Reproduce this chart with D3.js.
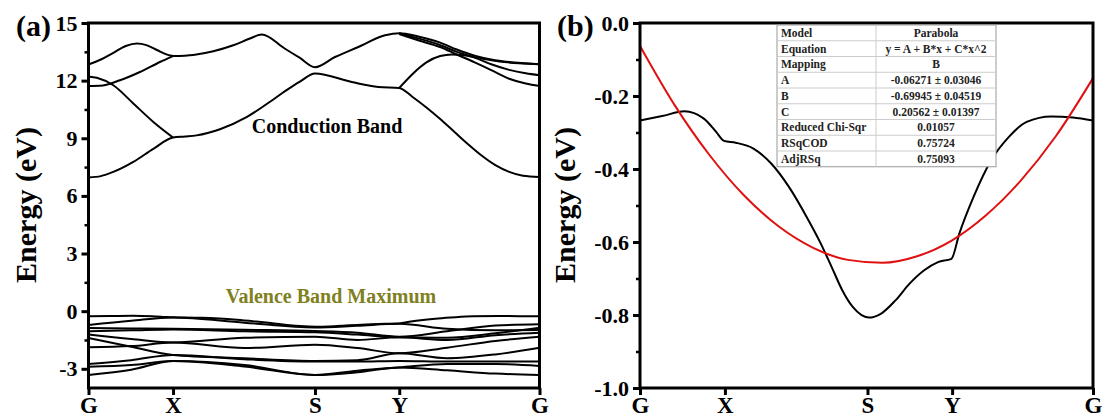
<!DOCTYPE html>
<html>
<head>
<meta charset="utf-8">
<script src="https://cdn.jsdelivr.net/npm/d3@7"></script>
<style>
  body { margin: 0; background: #fff; }
  text { font-family: "Liberation Serif", "Times New Roman", serif; font-weight: bold; }
</style>
</head>
<body>
<div id="chart"></div>
<script>
/* k-path and tick labels */
var kTicks = [0, 0.613, 1.642, 2.253, 3.27];
var kLabels = ["G", "X", "S", "Y", "G"];
var energyTicksA = [15, 12, 9, 6, 3, 0, -3];
var energyMinorA = [13.5, 10.5, 7.5, 4.5, 1.5, -1.5];
var energyTicksB = [0, -0.2, -0.4, -0.6, -0.8, -1.0];
var energyMinorB = [-0.1, -0.3, -0.5, -0.7, -0.9];

/* conduction bands, [k, E] pieces */
var conductionBands = [
  [[0,6.96],[0.09,7.03],[0.18,7.25],[0.325,7.77],[0.47,8.45],[0.613,9.04],[0.7,9.09],[0.784,9.15],[0.953,9.47],[1.146,10.1],[1.34,11.02],[1.425,11.45],[1.533,11.95],[1.642,12.37],[1.908,11.93],[2.102,11.67],[2.253,11.62],[2.35,11.15],[2.45,10.6],[2.55,10.0],[2.65,9.35],[2.75,8.7],[2.85,8.1],[2.95,7.6],[3.05,7.25],[3.15,7.05],[3.27,6.99]],
  [[0,12.22],[0.06,12.15],[0.18,11.76],[0.325,10.81],[0.47,9.85],[0.613,9.04]],
  [[0,11.72],[0.083,11.73],[0.228,12.02],[0.373,12.45],[0.518,12.97],[0.613,13.28]],
  [[0,12.84],[0.09,13.1],[0.18,13.45],[0.27,13.8],[0.35,13.93],[0.42,13.85],[0.5,13.58],[0.56,13.38],[0.613,13.28]],
  [[0.613,13.28],[0.76,13.34],[0.905,13.53],[1.05,13.84],[1.17,14.19],[1.256,14.4],[1.425,13.66],[1.533,13.18],[1.642,12.7],[1.787,13.23],[1.956,13.75],[2.15,14.36],[2.253,14.47],[2.39,14.3],[2.55,13.98],[2.67,13.62],[2.8,13.3],[2.92,13.1],[3.05,12.97],[3.17,12.9],[3.27,12.85]],
  [[2.253,14.47],[2.39,14.2],[2.55,13.85],[2.67,13.5],[2.8,13.2],[2.92,12.85],[3.05,12.56],[3.17,12.38],[3.27,12.28]],
  [[2.253,14.42],[2.39,14.1],[2.55,13.75],[2.67,13.36],[2.8,12.95],[2.92,12.55],[3.05,12.1],[3.17,11.85],[3.27,11.72]],
  [[2.253,11.62],[2.35,12.35],[2.45,12.95],[2.55,13.28],[2.635,13.36],[2.72,13.32],[2.85,13.15],[2.98,13.0],[3.12,12.9],[3.27,12.85]]
];

/* valence bands below the top one, E at valenceK */
var valenceK = [0, 0.31, 0.613, 1.13, 1.642, 1.95, 2.253, 2.6, 2.95, 3.27];
var valenceBands = [
  [-0.72, -0.50, -0.33, -0.60, -0.85, -0.76, -0.66, -0.92, -1.00, -0.98],
  [-0.88, -0.90, -0.92, -0.97, -1.03, -1.12, -1.33, -1.05, -0.75, -0.68],
  [-1.05, -1.00, -0.95, -1.05, -1.10, -1.22, -1.36, -1.38, -1.15, -0.86],
  [-1.22, -1.45, -1.63, -1.38, -1.33, -1.50, -1.36, -1.50, -1.25, -1.12],
  [-1.88, -1.82, -1.63, -1.92, -1.75, -1.92, -2.19, -1.90, -1.55, -1.33],
  [-1.40, -1.85, -2.28, -2.45, -2.59, -2.55, -2.19, -2.45, -2.25, -1.90],
  [-2.75, -2.55, -2.28, -2.50, -2.62, -2.62, -2.59, -2.62, -2.62, -2.62],
  [-2.89, -2.80, -2.60, -2.80, -3.32, -3.10, -2.93, -2.75, -2.75, -2.85],
  [-3.32, -3.05, -2.60, -2.88, -3.32, -3.18, -2.93, -3.08, -3.25, -3.32]
];

/* top valence band (panel b black line, also top line of panel a) */
var vbmBand = [[0,-0.267],[0.16,-0.255],[0.32,-0.242],[0.461,-0.262],[0.551,-0.299],[0.607,-0.323],[0.691,-0.328],[0.819,-0.344],[0.947,-0.385],[1.075,-0.449],[1.204,-0.532],[1.306,-0.605],[1.383,-0.668],[1.46,-0.732],[1.536,-0.778],[1.652,-0.807],[1.741,-0.796],[1.844,-0.76],[1.946,-0.714],[2.049,-0.678],[2.151,-0.655],[2.248,-0.646],[2.305,-0.577],[2.407,-0.477],[2.535,-0.376],[2.663,-0.312],[2.791,-0.271],[2.97,-0.256],[3.124,-0.259],[3.27,-0.267]];

/* red parabola fit as drawn */
var fitCurve = [[0,-0.063],[0.25,-0.225],[0.5,-0.361],[0.75,-0.472],[1.0,-0.557],[1.25,-0.616],[1.5,-0.649],[1.75,-0.657],[2.0,-0.639],[2.25,-0.596],[2.5,-0.526],[2.75,-0.431],[3.0,-0.311],[3.27,-0.151]];

/* fit report table */
var tableRows = [
  ["Model", "Parabola"],
  ["Equation", "y = A + B*x + C*x^2"],
  ["Mapping", "B"],
  ["A", "-0.06271 \u00b1 0.03046"],
  ["B", "-0.69945 \u00b1 0.04519"],
  ["C", "0.20562 \u00b1 0.01397"],
  ["Reduced Chi-Sqr", "0.01057"],
  ["RSqCOD", "0.75724"],
  ["AdjRSq", "0.75093"]
];

var svg = d3.select("#chart")
            .append("svg")
            .attr("width", 1104)
            .attr("height", 419);

var plotTop = 23, plotBottom = 388;

var xA = d3.scaleLinear().domain([0, 3.27]).range([88.5, 539.5]);
var yA = d3.scaleLinear().domain([-4, 15]).range([plotBottom, plotTop]);
var xB = d3.scaleLinear().domain([0, 3.27]).range([640, 1093]);
var yB = d3.scaleLinear().domain([-1, 0]).range([plotBottom, plotTop]);

function drawAxes(x, y, ticks, minor, fmt) {
  var x0 = x.range()[0], x1 = x.range()[1];

  var gy = svg.append("g")
      .attr("transform", "translate(" + x0 + ",0)")
      .call(d3.axisLeft(y).tickValues(ticks).tickSize(7).tickPadding(4).tickFormat(fmt));
  gy.select(".domain").remove();
  gy.selectAll("line").attr("stroke-width", 3);
  gy.selectAll("text").style("font-size", "22px").attr("fill", "#000");

  var gm = svg.append("g")
      .attr("transform", "translate(" + x0 + ",0)")
      .call(d3.axisLeft(y).tickValues(minor).tickSize(4).tickFormat(""));
  gm.select(".domain").remove();
  gm.selectAll("line").attr("stroke-width", 2.5);

  var gx = svg.append("g")
      .attr("transform", "translate(0," + plotBottom + ")")
      .call(d3.axisBottom(x).tickValues(kTicks).tickSize(7)
              .tickFormat(function (d, i) { return kLabels[i]; }));
  gx.select(".domain").remove();
  gx.selectAll("line").attr("stroke-width", 3);
  gx.selectAll("text").attr("dy", null).attr("y", 25)
    .style("font-size", "23px").attr("fill", "#000");

  svg.append("rect")
     .attr("x", x0).attr("y", plotTop)
     .attr("width", x1 - x0).attr("height", plotBottom - plotTop)
     .attr("fill", "none").attr("stroke", "#000").attr("stroke-width", 3);
}

/* ---- panel (a) ---- */
var lineA = d3.line()
    .x(function (d) { return xA(d[0]); })
    .y(function (d) { return yA(d[1]); })
    .curve(d3.curveMonotoneX);

svg.selectAll()
   .data(conductionBands)
   .enter()
   .append("path")
   .attr("d", lineA)
   .attr("fill", "none").attr("stroke", "#000").attr("stroke-width", 2);

svg.append("path")
   .attr("d", lineA(vbmBand))
   .attr("fill", "none").attr("stroke", "#000").attr("stroke-width", 2);

svg.selectAll()
   .data(valenceBands)
   .enter()
   .append("path")
   .attr("d", function (band) {
     return lineA(band.map(function (e, i) { return [valenceK[i], e]; }));
   })
   .attr("fill", "none").attr("stroke", "#000").attr("stroke-width", 2);

drawAxes(xA, yA, energyTicksA, energyMinorA, function (d) { return String(d); });

svg.append("text").attr("x", 327).attr("y", 133)
   .attr("text-anchor", "middle").style("font-size", "20px")
   .text("Conduction Band");

svg.append("text").attr("x", 331).attr("y", 303)
   .attr("text-anchor", "middle").style("font-size", "20px")
   .attr("fill", "#80801e")
   .text("Valence Band Maximum");

svg.append("text").attr("x", 16).attr("y", 36)
   .style("font-size", "30px").text("(a)");

svg.append("text")
   .attr("transform", "translate(25,205) rotate(-90)")
   .attr("text-anchor", "middle").attr("dominant-baseline", "central")
   .style("font-size", "30px").text("Energy (eV)");

/* ---- panel (b) ---- */
var lineB = d3.line()
    .x(function (d) { return xB(d[0]); })
    .y(function (d) { return yB(d[1]); })
    .curve(d3.curveMonotoneX);

svg.append("path")
   .attr("d", lineB(vbmBand))
   .attr("fill", "none").attr("stroke", "#000").attr("stroke-width", 2);

svg.append("path")
   .attr("d", lineB(fitCurve))
   .attr("fill", "none").attr("stroke", "#e01010").attr("stroke-width", 2);

drawAxes(xB, yB, energyTicksB, energyMinorB, function (d) { return d.toFixed(1); });

svg.append("text").attr("x", 557).attr("y", 36)
   .style("font-size", "30px").text("(b)");

svg.append("text")
   .attr("transform", "translate(564,205) rotate(-90)")
   .attr("text-anchor", "middle").attr("dominant-baseline", "central")
   .style("font-size", "30px").text("Energy (eV)");

/* fit table */
var tLeft = 777, tMid = 876, tRight = 996, tTop = 25, rowH = 15.75;
var table = svg.append("g");
table.append("rect")
     .attr("x", tLeft).attr("y", tTop)
     .attr("width", tRight - tLeft).attr("height", rowH * tableRows.length)
     .attr("fill", "#fff").attr("stroke", "#999").attr("stroke-width", 1);

table.selectAll()
     .data(tableRows.slice(1))
     .enter()
     .append("line")
     .attr("x1", tLeft).attr("x2", tRight)
     .attr("y1", function (d, i) { return tTop + (i + 1) * rowH; })
     .attr("y2", function (d, i) { return tTop + (i + 1) * rowH; })
     .attr("stroke", "#ccc").attr("stroke-width", 1);

table.append("line")
     .attr("x1", tMid).attr("x2", tMid)
     .attr("y1", tTop).attr("y2", tTop + rowH * tableRows.length)
     .attr("stroke", "#ccc").attr("stroke-width", 1);

table.selectAll()
     .data(tableRows)
     .enter()
     .append("text")
     .attr("x", tLeft + 4)
     .attr("y", function (d, i) { return tTop + i * rowH + rowH / 2 + 4; })
     .style("font-size", "11.5px").attr("fill", "#222")
     .text(function (d) { return d[0]; });

table.selectAll()
     .data(tableRows)
     .enter()
     .append("text")
     .attr("x", (tMid + tRight) / 2)
     .attr("y", function (d, i) { return tTop + i * rowH + rowH / 2 + 4; })
     .attr("text-anchor", "middle")
     .style("font-size", "11.5px").attr("fill", "#222")
     .text(function (d) { return d[1]; });
</script>
</body>
</html>
